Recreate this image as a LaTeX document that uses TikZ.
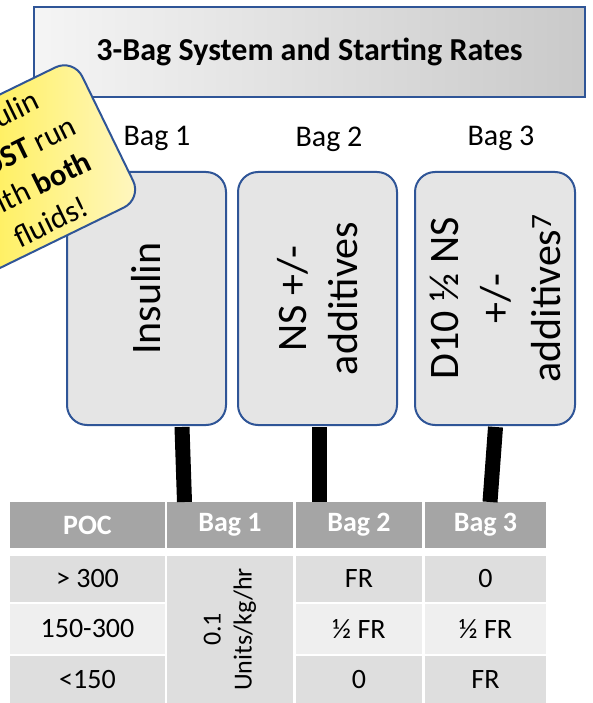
\documentclass[tikz,border=0pt]{standalone}
\usepackage{fontspec}
\setmainfont{Carlito}
\usetikzlibrary{positioning}

\definecolor{bagblue}{RGB}{47,85,151}
\definecolor{hdrgray}{RGB}{165,165,165}
\definecolor{rowdark}{RGB}{222,222,222}
\definecolor{rowlight}{RGB}{239,239,239}
\definecolor{bagfill}{RGB}{229,229,229}
\definecolor{noteyellow}{RGB}{255,236,40}
\definecolor{notepale}{RGB}{255,247,196}

\begin{document}
\begin{tikzpicture}[
  x=1pt, y=-1pt,
  titlebox/.style={rectangle, draw=bagblue, line width=1.5pt, left color=gray!8, right color=gray!42,
                   minimum width=551pt, minimum height=90pt, inner sep=0pt,
                   font=\fontsize{32}{38}\selectfont\bfseries},
  baglabel/.style={anchor=base, font=\fontsize{30}{36}\selectfont},
  bagbox/.style={rectangle, rounded corners=20pt, draw=bagblue, line width=2pt, fill=bagfill,
                 minimum width=253pt, minimum height=#1, inner sep=0pt, rotate=90, align=center,
                 font=\fontsize{42}{51}\selectfont},
  tube/.style={line width=15pt, black},
  cell/.style={rectangle, fill=#1, inner sep=0pt, minimum width=126pt, font=\fontsize{28}{33}\selectfont},
  hcell/.style={cell=hdrgray, text=white, minimum height=46pt, font=\fontsize{28}{33}\selectfont\bfseries},
  warnnote/.style={rectangle, rounded corners=20pt, draw=bagblue, line width=2pt,
                   left color=noteyellow, right color=notepale, minimum width=184pt, minimum height=156pt,
                   inner sep=0pt, align=center, rotate=26, font=\fontsize{31}{39}\selectfont},
]
\useasboundingbox (0,0) rectangle (592,703);

% ---- Title ----
\node[titlebox] (title) at (309.5,52) {3-Bag System and Starting Rates};

% ---- Bags ----
\node[baglabel] (l1) at (157,146) {Bag 1};
\node[baglabel] (l2) at (329,147) {Bag 2};
\node[baglabel] (l3) at (501,146) {Bag 3};

\node[bagbox=159pt] (b1) at (146.5,298.5) {Insulin};
\node[bagbox=159pt] (b2) at (317.5,298.5) {NS +/-\\additives};
\node[bagbox=160pt] (b3) at (495,298.5) {D10 ½ NS\\+/-\\additives\textsuperscript{7}};

% ---- Table: header ----
\node[hcell, minimum width=155pt] (h1) at (87.5,525) {POC};
\node[hcell] (h2) at (230,525) {Bag 1};
\node[hcell] (h3) at (359,525) {Bag 2};
\node[hcell, minimum width=121pt] (h4) at (485.5,525) {Bag 3};

% ---- Table: rows ----
\node[cell=rowdark, minimum width=155pt, minimum height=46pt] (p1) at (87.5,579) {> 300};
\node[cell=rowlight, minimum width=155pt, minimum height=50pt] (p2) at (87.5,629) {150-300};
\node[cell=rowdark, minimum width=155pt, minimum height=47pt] (p3) at (87.5,679.5) {<150};

\node[cell=rowdark, minimum width=147pt, minimum height=126pt, rotate=90, align=center,
      font=\fontsize{26}{31}\selectfont] (ins) at (230,629.5) {0.1\\Units/kg/hr};

\node[cell=rowdark, minimum height=46pt] (n1) at (359,579) {FR};
\node[cell=rowlight, minimum height=50pt] (n2) at (359,629) {½ FR};
\node[cell=rowdark, minimum height=47pt] (n3) at (359,679.5) {0};

\node[cell=rowdark, minimum width=121pt, minimum height=46pt] (d1) at (485.5,579) {0};
\node[cell=rowlight, minimum width=121pt, minimum height=50pt] (d2) at (485.5,629) {½ FR};
\node[cell=rowdark, minimum width=121pt, minimum height=47pt] (d3) at (485.5,679.5) {FR};

% ---- Tubes from bags down to the table ----
\coordinate (t1a) at (182,427);   \coordinate (t1b) at (184.5,502);
\coordinate (t2a) at (319,427);   \coordinate (t2b) at (319,502);
\coordinate (t3a) at (495.5,427); \coordinate (t3b) at (490,502);
\draw[tube] (t1a) -- (t1b);
\draw[tube] (t2a) -- (t2b);
\draw[tube] (t3a) -- (t3b);

% ---- Warning note ----
\node[warnnote] (warn) at (25,169) {Insulin\\\textbf{MUST} run\\with \textbf{both}\\fluids!};

\end{tikzpicture}
\end{document}
